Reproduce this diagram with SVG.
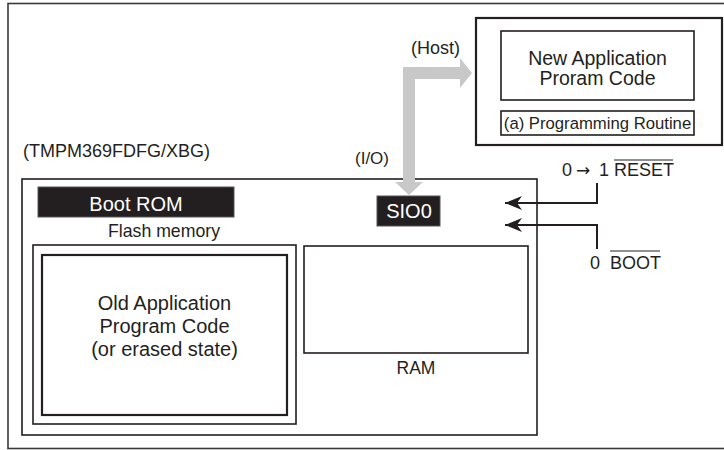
<svg xmlns="http://www.w3.org/2000/svg" width="724" height="450" viewBox="0 0 724 450">
<style>
text{font-family:"Liberation Sans",Arial,sans-serif;fill:#231f20}
.box{fill:none;stroke:#231f20;stroke-width:1.6}
.thick{fill:none;stroke:#231f20;stroke-width:2.2}
.blk{fill:#231f20;stroke:#555;stroke-width:1}
.wire{fill:none;stroke:#231f20;stroke-width:2}
.c{text-anchor:middle}
</style>
<defs>
<marker id="ah" markerUnits="userSpaceOnUse" markerWidth="20" markerHeight="16" refX="19" refY="8" orient="auto" viewBox="0 0 20 16">
<path d="M19,8 L2,1 L7,8 L2,15 Z" fill="#231f20"/>
</marker>
</defs>
<rect width="724" height="450" fill="#fff"/>
<g id="frame">
<rect x="8" y="3.5" width="740" height="445" fill="none" stroke="#3a3a3a" stroke-width="1.6"/>
</g>
<g id="host">
<rect class="thick" x="476" y="18" width="246" height="127"/>
<rect class="box" x="501" y="31" width="193" height="69"/>
<text class="c" x="597.5" y="64.5" font-size="19.5">New Application</text>
<text class="c" x="597.5" y="85" font-size="19.5">Proram Code</text>
<rect class="box" x="501" y="111" width="193" height="24"/>
<text class="c" x="597.5" y="129" font-size="16.7">(a) Programming Routine</text>
<text x="411" y="54" font-size="18">(Host)</text>
</g>
<g id="chip">
<text x="23" y="157" font-size="18">(TMPM369FDFG/XBG)</text>
<rect class="box" x="22" y="179" width="515" height="256"/>
<text x="355" y="164" font-size="17">(I/O)</text>
</g>
<g id="bootrom">
<rect class="blk" x="38" y="187" width="196" height="30"/>
<text class="c" x="136" y="211" font-size="20" style="fill:#fff">Boot ROM</text>
</g>
<g id="flash">
<text class="c" x="164" y="237" font-size="17.7">Flash memory</text>
<rect class="box" x="33" y="245" width="263" height="179"/>
<rect class="thick" x="42" y="255" width="245" height="160"/>
<text class="c" x="164.5" y="310" font-size="20">Old Application</text>
<text class="c" x="164.5" y="333" font-size="20">Program Code</text>
<text class="c" x="164.5" y="356" font-size="20">(or erased state)</text>
</g>
<g id="sio0">
<rect class="blk" x="377" y="196" width="63" height="30"/>
<text class="c" x="409" y="218" font-size="20" style="fill:#fff">SIO0</text>
</g>
<g id="ram">
<rect class="box" x="304" y="246" width="224" height="107"/>
<text class="c" x="416" y="374" font-size="17.5">RAM</text>
</g>
<g id="reset">
<text y="176" font-size="18"><tspan x="562">0</tspan><tspan x="576" style="font-family:'DejaVu Sans',sans-serif" font-size="17">→</tspan><tspan x="599">1</tspan><tspan x="614">RESET</tspan></text>
<line x1="614" y1="160" x2="673" y2="160" stroke="#231f20" stroke-width="1.2"/>
</g>
<g id="boot">
<text y="269" font-size="18"><tspan x="590">0</tspan><tspan x="610">BOOT</tspan></text>
<line x1="610" y1="251" x2="660" y2="251" stroke="#231f20" stroke-width="1.2"/>
</g>
<g id="connectors">
<polygon points="403,182 403,67 460,67 460,58 472,73 460,88 460,79 415,79 415,182 423,182 409,195 395,182" fill="#c8c8c8"/>
<polyline class="wire" points="597,183 597,203 505,203" marker-end="url(#ah)"/>
<polyline class="wire" points="597,249 597,225 505,225" marker-end="url(#ah)"/>
</g>
</svg>
